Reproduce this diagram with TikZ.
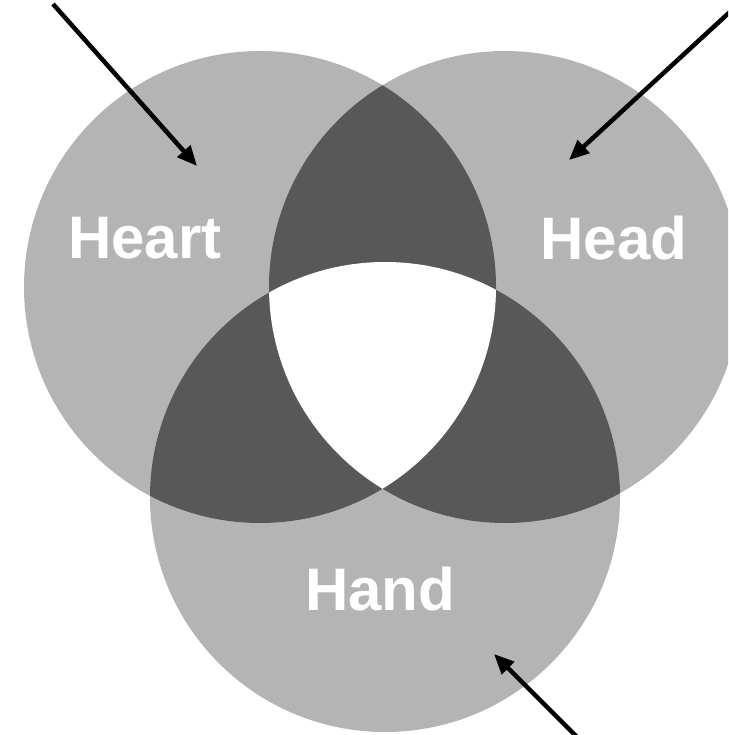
\documentclass[tikz,border=0pt]{standalone}
\usepackage{fontspec}
\setmainfont{Liberation Sans}
\usetikzlibrary{arrows.meta}
\definecolor{lightg}{RGB}{180,180,180}
\definecolor{darkg}{RGB}{88,88,88}
\tikzset{
  label text/.style={text=white,font=\bfseries\fontsize{60}{60}\selectfont,inner sep=0pt,anchor=base},
  pointer/.style={line width=4.5pt,-{Triangle[length=20pt,width=17pt]}}
}
\begin{document}
\begin{tikzpicture}[x=1pt,y=-1pt]
\useasboundingbox (0,0) rectangle (728,735);
\clip (0,0) rectangle (728,735);
\fill[white] (0,0) rectangle (728,735);
\def\heartc{(260,287) circle[radius=236]}
\def\headc{(505,287) circle[radius=236]}
\def\handc{(385,497) circle[radius=235]}
% circles
\fill[lightg] \heartc;
\fill[lightg] \headc;
\fill[lightg] \handc;
% pairwise overlaps
\begin{scope}\clip \heartc; \fill[darkg] \headc; \end{scope}
\begin{scope}\clip \heartc; \fill[darkg] \handc; \end{scope}
\begin{scope}\clip \headc; \fill[darkg] \handc; \end{scope}
% centre
\begin{scope}\clip \heartc; \clip \headc; \fill[white] \handc; \end{scope}
% labels
\node[label text] (heart) at (145,258) {Heart};
\node[label text] (head) at (614,259) {Head};
\node[label text] (hand) at (380,610) {Hand};
% arrows
\coordinate (a1s) at (53,4);
\coordinate (a1e) at (197,166);
\coordinate (a2s) at (732,10);
\coordinate (a2e) at (569,160);
\coordinate (a3s) at (582,742);
\coordinate (a3e) at (494,654);
\draw[pointer] (a1s) -- (a1e);
\draw[pointer] (a2s) -- (a2e);
\draw[pointer] (a3s) -- (a3e);
\end{tikzpicture}
\end{document}
